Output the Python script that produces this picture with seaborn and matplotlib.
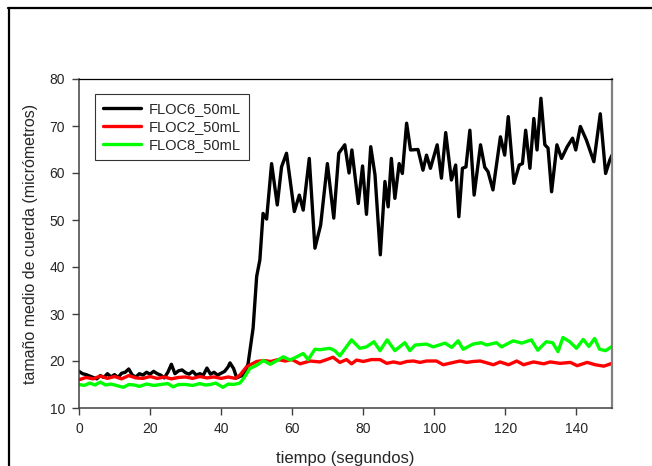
import matplotlib
matplotlib.use("Agg")
import matplotlib.pyplot as plt
from matplotlib.lines import Line2D
import seaborn as sns
import pandas as pd

series_names = ["FLOC6_50mL", "FLOC2_50mL", "FLOC8_50mL"]
series_colors = ["#000000", "#ff0000", "#00ff00"]

t_floc6 = [0, 1, 2, 3, 4, 5, 6, 7, 8, 9, 10, 11, 12, 13, 14, 15, 16, 17, 18, 19, 20,
           21, 22, 23, 24, 25, 26, 27, 28, 29, 30, 31, 32, 33, 34, 35, 36, 37, 38, 39,
           40, 41, 42, 42.5, 43.5, 44.4, 45.5, 46.5, 47.6, 49, 50, 50.9, 51.8, 52.8,
           54.2, 55.8, 57, 58.4, 60.6, 62, 63.1, 64.8, 66.4, 68, 69.9, 71.7, 73.1,
           74.8, 76, 76.8, 78.6, 79.8, 80.9, 82.1, 83.3, 84.8, 86.1, 87, 87.9, 88.9,
           90.1, 91, 92.2, 93.3, 95.4, 96.8, 97.8, 98.9, 100.8, 102, 103.2, 104.8,
           106, 106.9, 107.9, 108.9, 110, 111.2, 113, 114.2, 115.1, 116.5, 118.6,
           119.8, 120.8, 122.4, 123.9, 124.8, 125.7, 126.9, 128, 128.9, 130, 131.1,
           132, 133, 134.5, 135.8, 137.4, 138.9, 139.8, 141.1, 142.8, 144.9, 146.7,
           148.2, 149.4, 150]
v_floc6 = [17.8, 17.3, 17.1, 16.8, 16.5, 16.2, 16.9, 16.5, 17.3, 16.6, 17.1, 16.5,
           17.4, 17.6, 18.3, 17.0, 16.6, 17.3, 17.0, 17.6, 17.2, 17.8, 17.3, 17.0,
           16.4, 17.6, 19.3, 17.3, 17.9, 18.1, 17.5, 17.2, 17.8, 17.0, 17.3, 17.0,
           18.5, 17.2, 17.6, 17.0, 17.4, 17.8, 18.8, 19.6, 18.4, 16.4, 16.8, 16.9,
           19.5, 27.0, 38.0, 41.5, 51.4, 50.2, 62.0, 53.2, 61.3, 64.2, 51.8, 55.3,
           52.1, 63.1, 44.0, 48.9, 62.0, 50.4, 64.2, 66.0, 60.0, 64.9, 53.5, 61.5,
           51.2, 65.6, 59.6, 42.6, 58.2, 52.8, 63.1, 54.6, 62.0, 59.9, 70.6, 64.9,
           65.0, 60.6, 63.8, 61.0, 66.0, 58.9, 68.6, 58.5, 61.7, 50.7, 61.0, 61.3,
           69.1, 55.3, 66.0, 61.2, 60.3, 56.4, 67.7, 63.8, 72.0, 57.8, 61.7, 62.0,
           69.1, 61.0, 71.6, 64.9, 75.9, 66.0, 65.3, 56.0, 66.0, 63.1, 65.6, 67.4,
           64.9, 69.9, 67.0, 62.4, 72.6, 59.9, 62.8, 63.8]

t_floc2 = [0, 2, 4, 6, 8, 10, 12, 14, 16, 18, 20, 22, 24, 26, 28, 30, 32, 34, 36, 38,
           40, 42, 44, 45.3, 47.2, 50, 52, 54, 56, 58, 60, 62.2, 65, 67.8, 69.7, 71.5,
           73.4, 75.3, 76.7, 78.1, 80, 82.3, 84.7, 86.6, 88.5, 90.4, 92.3, 94.1, 96,
           97.8, 100.6, 102.5, 105.4, 107.2, 109.1, 111, 112.9, 114.8, 116.6, 118.5,
           120.9, 123.2, 125.1, 127.9, 130.8, 132.6, 135.4, 138.3, 140.2, 143, 145.3,
           147.7, 150]
v_floc2 = [16.0, 16.5, 16.2, 16.8, 16.3, 16.7, 16.2, 16.9, 16.4, 16.3, 16.7, 16.3,
           16.6, 16.2, 16.5, 16.6, 16.3, 16.7, 16.4, 16.6, 16.3, 16.6, 16.3, 17.0,
           18.8, 19.9, 20.1, 19.9, 20.3, 20.0, 20.3, 19.4, 20.0, 19.8, 20.3, 20.8,
           19.7, 20.3, 19.4, 20.2, 19.9, 20.3, 20.3, 19.5, 19.8, 19.5, 19.9, 20.0,
           19.7, 20.0, 20.0, 19.2, 19.7, 20.0, 19.7, 19.9, 20.0, 19.6, 19.2, 19.8,
           19.2, 20.0, 19.2, 19.8, 19.4, 19.8, 19.5, 19.7, 19.0, 19.7, 19.2, 18.9,
           19.5]

t_floc8 = [0, 1.5, 3, 4.5, 6, 7.5, 9, 11, 12.5, 14, 15.5, 17, 19, 21, 23, 25, 26.5,
           28, 30, 32, 34, 35.5, 37, 38.5, 40.5, 42, 43.5, 45.3, 46.5, 48.1, 50, 51.9,
           53.8, 55.5, 57.5, 59.4, 61.3, 63.1, 64.5, 66.4, 67.8, 70.6, 72, 73.4, 76.7,
           79, 80.9, 83, 84.7, 86.7, 88.9, 91.7, 93.1, 94.6, 97.8, 99.7, 103, 104.9,
           106.7, 108.1, 110.9, 113.2, 114.7, 117.5, 118.9, 122.2, 124.6, 127.3,
           129.1, 131.5, 133.3, 134.8, 136.2, 138.1, 140, 141.9, 143.5, 145.1, 146.5,
           148.2, 149.8]
v_floc8 = [15.0, 14.8, 15.3, 14.9, 15.5, 14.9, 15.1, 14.7, 14.4, 15.0, 14.9, 14.6,
           15.1, 14.8, 15.0, 15.2, 14.5, 15.0, 15.0, 14.8, 15.2, 14.9, 15.0, 15.3,
           14.4, 15.1, 15.0, 15.3, 16.5, 18.4, 19.1, 20.1, 19.3, 20.0, 20.9, 20.2,
           20.9, 21.6, 20.3, 22.5, 22.4, 22.7, 22.2, 21.1, 24.5, 22.7, 23.0, 24.1,
           22.2, 24.5, 22.2, 23.9, 22.2, 23.4, 23.6, 23.0, 23.8, 22.9, 24.3, 22.5,
           23.6, 23.9, 23.4, 23.9, 23.0, 24.3, 23.8, 24.5, 22.3, 24.1, 23.9, 22.0,
           25.0, 24.1, 22.7, 24.6, 23.1, 24.8, 22.5, 22.2, 23.0]

x_ticks = [0, 20, 40, 60, 80, 100, 120, 140]
y_ticks = [10, 20, 30, 40, 50, 60, 70, 80]

frames = []
for name, t, v in zip(series_names, [t_floc6, t_floc2, t_floc8], [v_floc6, v_floc2, v_floc8]):
    frames.append(pd.DataFrame({"tiempo": t, "valor": v, "serie": name}))
df = pd.concat(frames, ignore_index=True)

sns.set_style("white")
plt.rcParams["font.family"] = ["Liberation Sans", "DejaVu Sans"]

fig = plt.figure(figsize=(6.52, 4.66), dpi=100)
ax = fig.add_axes([79 / 652, 1 - 408 / 466, (612 - 79) / 652, (408 - 79) / 466])

sns.lineplot(data=df, x="tiempo", y="valor", hue="serie", hue_order=series_names,
             palette=series_colors, linewidth=2.4, sort=False, estimator=None,
             ax=ax, legend=False)

ax.set_xlim(0, 150)
ax.set_ylim(10, 80)
ax.set_xticks(x_ticks)
ax.set_yticks(y_ticks)
ax.tick_params(axis="both", direction="out", length=5, width=1, color="#404040",
               labelsize=10, pad=5, bottom=True, left=True)
for side in ["left", "bottom"]:
    ax.spines[side].set_color("#404040")
    ax.spines[side].set_linewidth(1.1)
ax.spines["top"].set_color("#000000")
ax.spines["top"].set_linewidth(0.9)
ax.spines["right"].set_color("#808080")
ax.spines["right"].set_linewidth(1.6)

ax.set_xlabel("tiempo (segundos)", fontsize=12, labelpad=11)
ax.set_ylabel("tamaño medio de cuerda (micrómetros)", fontsize=11.5, labelpad=8)

handles = [Line2D([0], [0], color=c, lw=2.4) for c in series_colors]
leg = ax.legend(handles, series_names, loc="upper left", bbox_to_anchor=(16 / 533, 1 - 15 / 329),
                frameon=True, fancybox=False, fontsize=10.5, handlelength=2.6,
                handletextpad=0.55, labelspacing=0.28, borderpad=0.55, borderaxespad=0)
leg.get_frame().set_edgecolor("#000000")
leg.get_frame().set_linewidth(0.8)

# outer frame lines (partially visible border around the figure)
fig.add_artist(Line2D([8 / 652, 1.0], [1 - 7.5 / 466, 1 - 7.5 / 466],
                      transform=fig.transFigure, color="black", lw=1.6))
fig.add_artist(Line2D([9 / 652, 9 / 652], [0, 1 - 7.5 / 466],
                      transform=fig.transFigure, color="black", lw=1.6))

fig.savefig("out.png", dpi=100)
